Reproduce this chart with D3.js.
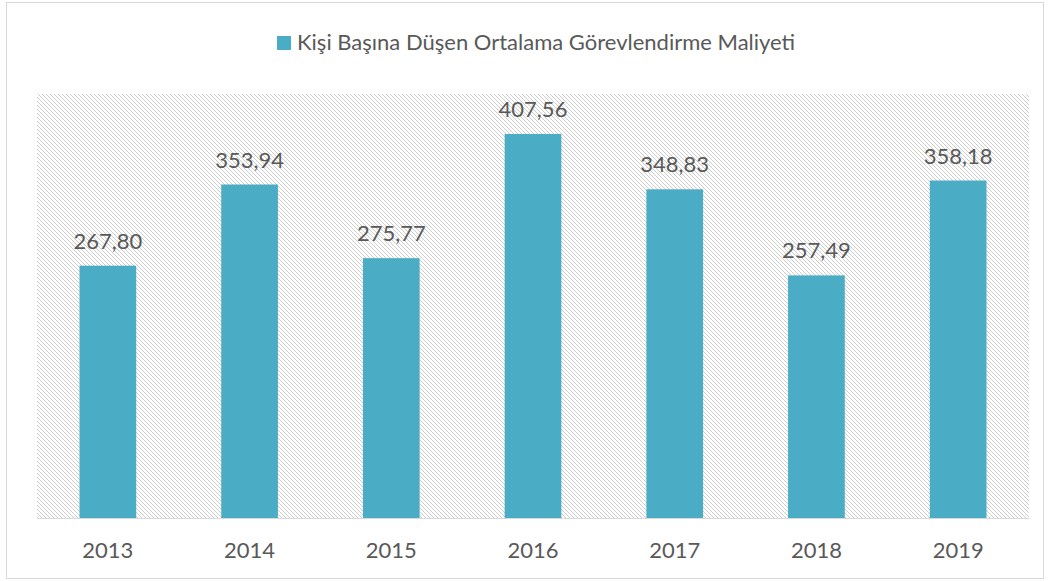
<!DOCTYPE html>
<html>
<head>
<meta charset="utf-8">
<script src="https://cdn.jsdelivr.net/npm/d3@7"></script>
<style>
  body { margin: 0; background: #fff; }
  svg text { font-family: Lato, "Open Sans", sans-serif; fill: #595959; }
</style>
</head>
<body>
<svg id="chart" width="1051" height="581"></svg>
<script>
// data
const years = ["2013", "2014", "2015", "2016", "2017", "2018", "2019"];
const costs = [267.80, 353.94, 275.77, 407.56, 348.83, 257.49, 358.18];
const seriesName = "Kişi Başına Düşen Ortalama Görevlendirme Maliyeti";

const width = 1051, height = 581;
const plot = {left: 37, right: 1029, top: 94, bottom: 518};
const barColor = "#4BACC6";

const svg = d3.select("#chart");

// hatch pattern for plot background
const defs = svg.append("defs");
defs.append("pattern")
    .attr("id", "hatch")
    .attr("patternUnits", "userSpaceOnUse")
    .attr("width", 4).attr("height", 4)
  .append("path")
    .attr("d", "M-1,-1 l2,2 M0,0 l4,4 M3,3 l2,2")
    .attr("stroke", "#cdcdcd")
    .attr("stroke-width", 1);

// outer border
svg.append("rect")
    .attr("x", 6.5).attr("y", 2.5)
    .attr("width", 1037).attr("height", 576)
    .attr("fill", "#fff")
    .attr("stroke", "#d9d9d9");

svg.append("rect")
    .attr("x", plot.left).attr("y", plot.top)
    .attr("width", plot.right - plot.left)
    .attr("height", plot.bottom - plot.top)
    .attr("fill", "url(#hatch)");

const x = d3.scaleBand()
    .domain(years)
    .range([plot.left, plot.right])
    .paddingInner(0.6)
    .paddingOuter(0.3);

const y = d3.scaleLinear()
    .domain([0, 450])
    .range([plot.bottom, plot.top]);

const data = years.map((yr, i) => ({year: yr, value: costs[i]}));

// bars
svg.append("g")
    .selectAll("rect")
    .data(data)
    .enter()
    .append("rect")
    .attr("x", d => x(d.year))
    .attr("y", d => y(d.value))
    .attr("width", x.bandwidth())
    .attr("height", d => y(0) - y(d.value))
    .attr("fill", barColor);

// value labels
const fmt = v => v.toFixed(2).replace(".", ",");
svg.append("g")
    .selectAll("text")
    .data(data)
    .enter()
    .append("text")
    .attr("x", d => x(d.year) + x.bandwidth() / 2)
    .attr("y", d => y(d.value) - 17)
    .attr("text-anchor", "middle")
    .style("font-size", "22px")
    .text(d => fmt(d.value));

// x axis
const xAxis = svg.append("g")
    .attr("transform", `translate(0,${plot.bottom})`)
    .call(d3.axisBottom(x).tickSize(0).tickPadding(24));
xAxis.select(".domain").attr("stroke", "#d9d9d9");
xAxis.selectAll("text")
    .style("font-size", "22px")
    .attr("fill", "#595959");

// legend
const legend = svg.append("g");
legend.append("rect")
    .attr("x", 277).attr("y", 36)
    .attr("width", 14).attr("height", 14)
    .attr("fill", barColor);
legend.append("text")
    .attr("x", 297).attr("y", 50)
    .style("font-size", "22px")
    .text(seriesName);
</script>
</body>
</html>
